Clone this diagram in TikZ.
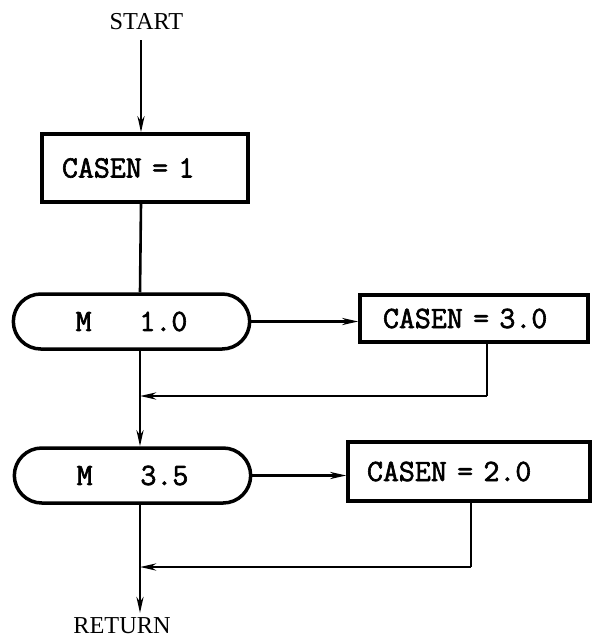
\documentclass[tikz,border=0pt]{standalone}
\usepackage{fontspec}
\setmainfont{Liberation Serif}
\newfontfamily\tw[FakeBold=2]{Latin Modern Mono}
\usetikzlibrary{arrows.meta,shapes.misc}
\begin{document}
\begin{tikzpicture}[x=1pt,y=-1pt,
  conn/.style={line width=2.6pt,-{Stealth[length=16pt,width=7pt]}},
  plain/.style={line width=2.6pt},
  boxnode/.style={draw,line width=3.5pt,rectangle,align=left,inner ysep=0pt,
     font=\tw\fontsize{31}{31}\selectfont},
  pill/.style={draw,line width=3.5pt,rounded rectangle,minimum width=243pt,minimum height=55pt,
     font=\tw\fontsize{31}{31}\selectfont},
  term/.style={font=\fontsize{24.3}{24.3}\selectfont,inner sep=0pt}]
\useasboundingbox (0,0) rectangle (592,643);
\node[term] (start) at (146.5,22) {START};
\node[boxnode,minimum height=68pt,text width=166pt,inner xsep=20pt] (b1) at (145,168) {CASEN = 1};
\node[pill] (p1) at (131.5,321.5) {M~~~1.0};
\node[boxnode,minimum height=47pt,text width=182pt,inner xsep=23pt] (b3) at (474,318.5) {CASEN = 3.0};
\node[pill] (p2) at (132.5,475.5) {M~~~3.5};
\node[boxnode,minimum height=59pt,text width=204pt,inner xsep=19pt] (b2) at (469,471.5) {CASEN = 2.0};
\node[term] (ret) at (122,626) {RETURN};
\coordinate (s0) at (141,40);
\coordinate (j1) at (140,396);
\coordinate (j2) at (140,567);
\coordinate (k1) at (487,396);
\coordinate (k2) at (471,567);
\coordinate (r0) at (140,613);
\draw[conn] (s0) -- (s0 |- b1.north);
\draw[plain] (b1.south -| s0) -- (p1.north -| j1);
\draw[conn] (p1.east) -- (p1.east -| b3.west);
\draw[plain] (b3.south -| k1) -- (k1);
\draw[conn] (k1) -- (j1);
\draw[plain] (p1.south -| j1) -- (j1);
\draw[conn] (j1) -- (p2.north -| j1);
\draw[conn] (p2.east) -- (p2.east -| b2.west);
\draw[plain] (b2.south -| k2) -- (k2);
\draw[conn] (k2) -- (j2);
\draw[plain] (p2.south -| j2) -- (j2);
\draw[conn] (j2) -- (r0);
\end{tikzpicture}
\end{document}
